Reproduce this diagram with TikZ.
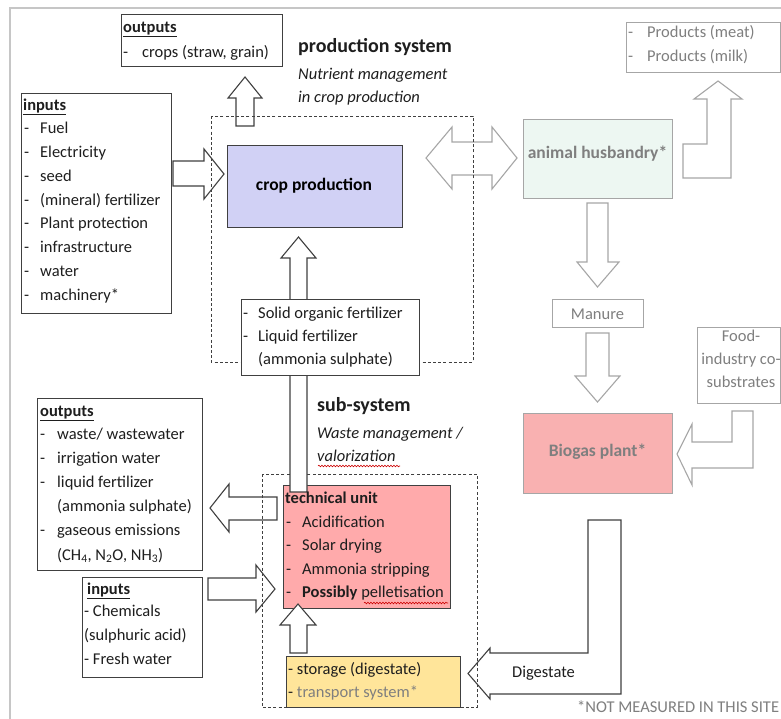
\documentclass[tikz,border=0pt]{standalone}
\usepackage{fontspec}
\setmainfont{Carlito}
\usetikzlibrary{calc,decorations.pathmorphing}

\definecolor{ink}{HTML}{1E1E1E}
\definecolor{edge}{HTML}{404040}
\definecolor{faint}{HTML}{A6A6A6}
\definecolor{greytext}{HTML}{7F7F7F}
\definecolor{framegray}{HTML}{C6C6C6}
\definecolor{cropfill}{HTML}{D1D1F5}
\definecolor{animalfill}{HTML}{EDF7F2}
\definecolor{biogasfill}{HTML}{F9B1B1}
\definecolor{techfill}{HTML}{FFAAAB}
\definecolor{storefill}{HTML}{FFE59A}

\newcommand\bodysize{\fontsize{16.5}{20}\selectfont}
\newcommand\dashitem[2][16pt]{\makebox[#1][l]{-}#2}

\begin{document}
\begin{tikzpicture}[x=1pt,y=-1pt,
  txt/.style={font=\bodysize, inner sep=0pt, anchor=base west, text=ink},
  txtb/.style={txt, font=\bodysize\bfseries},
  txti/.style={txt, font=\bodysize\itshape},
  title/.style={txt, font=\fontsize{20}{24}\selectfont\bfseries},
  boxlabel/.style={inner sep=0pt, anchor=base, font=\fontsize{17.5}{21}\selectfont\bfseries},
  box/.style={draw=edge, line width=1.1pt, fill=white, inner sep=0pt, anchor=north west},
  palebox/.style={box, draw=faint},
  blk/.style={draw=edge, line width=1.1pt, fill=white, line join=miter},
  paleblk/.style={blk, draw=faint},
  zone/.style={draw=edge, line width=0.9pt, dash pattern=on 3pt off 2.2pt},
  wavy/.style={red!80!black, line width=0.6pt, decorate,
    decoration={snake, amplitude=0.8pt, segment length=3pt}}
]
\useasboundingbox (0,0) rectangle (781,718);
\clip (0,0) rectangle (781,718);
\fill[white] (0,0) rectangle (781,718);

% page frame
\draw[framegray, line width=2pt] (10,740) -- (10,8) -- (800,8);

% ---- block arrows lying under the dashed system borders ----
% crop production -> crops
\draw[blk] (236,126) -- (236,98) -- (228,98) -- (245,77) -- (262,98) -- (254,98) -- (254,126) -- cycle;
% inputs -> crop production
\draw[blk] (173,161) -- (204,161) -- (204,149) -- (224,174) -- (204,199) -- (204,186) -- (173,186) -- cycle;
% crop production <-> animal husbandry
\draw[paleblk] (426,158) -- (452,127) -- (452,142) -- (492,142) -- (492,127) -- (517,158)
  -- (492,189) -- (492,175) -- (452,175) -- (452,189) -- cycle;
% technical unit -> outputs
\draw[blk] (277,497) -- (229,497) -- (229,484) -- (210,508) -- (229,532) -- (229,520) -- (277,520) -- cycle;
% inputs -> technical unit
\draw[blk] (208,578) -- (256,578) -- (256,565) -- (275,589) -- (256,612) -- (256,600) -- (208,600) -- cycle;
% biogas plant -> storage (digestate)
\draw[blk] (588,520) -- (621,520) -- (621,694) -- (490,694) -- (490,699) -- (468,673.5)
  -- (490,648) -- (490,653) -- (588,653) -- cycle;
% animal husbandry -> products
\draw[paleblk] (683,178) -- (683,144) -- (707,144) -- (707,99) -- (694,99) -- (718,81)
  -- (742,99) -- (731,99) -- (731,178) -- cycle;
% animal husbandry -> manure
\draw[paleblk] (587,203) -- (608,203) -- (608,262) -- (619,262) -- (597.5,287) -- (577,262) -- (587,262) -- cycle;
% manure -> biogas plant
\draw[paleblk] (586,333) -- (609,333) -- (609,376) -- (620,376) -- (597.5,402) -- (575,376) -- (586,376) -- cycle;
% food-industry co-substrates -> biogas plant
\draw[paleblk] (732,411) -- (753,411) -- (753,468) -- (692,468) -- (692,485) -- (677,454)
  -- (692,424) -- (692,442) -- (732,442) -- cycle;

% ---- system borders ----
\draw[zone] (211,116) rectangle (473,362);
\draw[zone] (262,474) rectangle (477,707);

% ---- boxes ----
\node[box, minimum width=161pt, minimum height=52pt] (outtop) at (121,14) {};
\node[box, minimum width=150pt, minimum height=220pt] (inputs) at (21,93) {};
\node[box, fill=cropfill, minimum width=175pt, minimum height=82pt] (crop) at (227,145) {};
\node[palebox, fill=animalfill, minimum width=149pt, minimum height=79pt] (animal) at (523,119) {};
\node[palebox, minimum width=154pt, minimum height=50pt] (products) at (626,22) {};
\node[palebox, minimum width=91pt, minimum height=28pt] (manure) at (552,299) {};
\node[palebox, minimum width=83pt, minimum height=76pt] (food) at (697,327) {};
\node[palebox, fill=biogasfill, minimum width=149pt, minimum height=80pt] (biogas) at (523,413) {};
\node[box, minimum width=165pt, minimum height=172pt] (outsub) at (37,398) {};
\node[box, minimum width=120pt, minimum height=100pt] (insub) at (82,577) {};
\node[box, fill=techfill, minimum width=167pt, minimum height=123pt] (tech) at (283,485) {};
\node[box, fill=storefill, minimum width=174pt, minimum height=51pt] (storage) at (286,656) {};

% fertilizer flow: technical unit -> crop production
\draw[blk] (290,492) -- (290,258) -- (281,258) -- (298.5,237) -- (316,258) -- (307,258) -- (307,492) -- cycle;
% storage -> technical unit
\draw[blk] (290,653) -- (290,625) -- (280,625) -- (298,604) -- (316,625) -- (307,625) -- (307,653) -- cycle;

\node[box, minimum width=178pt, minimum height=76pt] (solid) at (241,299) {};

% ---- texts ----
% outputs of crop production
\node[txtb] (outtop-h) at (123,32) {\underline{outputs}};
\node[txt] (outtop-1) at (123,57) {\dashitem[19pt]{crops (straw, grain)}};

% production system heading
\node[title] (prod-title) at (298,52) {production system};
\node[txti] (prod-sub1) at (298,79) {Nutrient management};
\node[txti] (prod-sub2) at (298,102) {in crop production};

% inputs of crop production
\node[txtb] (inputs-h) at (23,110) {\underline{inputs}};
\foreach \t [count=\i from 0] in {Fuel, Electricity, seed, {(mineral) fertilizer},
    Plant protection, infrastructure, water, machinery*}
  \node[txt] (inputs-\i) at (24,133.6+23.8*\i) {\dashitem{\t}};

\node[boxlabel] (crop-t) at (314,190) {crop production};
\node[boxlabel, text=greytext] (animal-t) at (597.5,158) {animal husbandry*};
\node[txt, text=greytext] (products-1) at (628,37.5) {\dashitem[19pt]{Products (meat)}};
\node[txt, text=greytext] (products-2) at (628,61) {\dashitem[19pt]{Products (milk)}};
\node[txt, anchor=base, text=greytext] (manure-t) at (597.5,319) {Manure};
\node[txt, anchor=base, text=greytext] (food-1) at (741,341) {Food-};
\node[txt, anchor=base, text=greytext] (food-2) at (741,364) {industry co-};
\node[txt, anchor=base, text=greytext] (food-3) at (741,387) {substrates};
\node[boxlabel, text=greytext] (biogas-t) at (597.5,456) {Biogas plant*};

% recycled fertilizers
\node[txt] (solid-1) at (243,318) {\dashitem[15pt]{Solid organic fertilizer}};
\node[txt] (solid-2) at (243,341) {\dashitem[15pt]{Liquid fertilizer}};
\node[txt] (solid-3) at (258,364) {(ammonia sulphate)};

% sub-system heading
\node[title] (sub-title) at (317,411) {sub-system};
\node[txti] (sub-sub1) at (317,438) {Waste management /};
\node[txti] (sub-sub2) at (317,461) {valorization};
\draw[wavy] (318,466) -- (400,466);

% outputs of the sub-system
\node[txtb] (outsub-h) at (40,416) {\underline{outputs}};
\node[txt] (outsub-1) at (40,439) {\dashitem[17pt]{waste/ wastewater}};
\node[txt] (outsub-2) at (40,463.2) {\dashitem[17pt]{irrigation water}};
\node[txt] (outsub-3) at (40,487.4) {\dashitem[17pt]{liquid fertilizer}};
\node[txt] (outsub-4) at (57,511.6) {(ammonia sulphate)};
\node[txt] (outsub-5) at (40,535.8) {\dashitem[17pt]{gaseous emissions}};
\node[txt] (outsub-6) at (57,560) {(CH\textsubscript{4}, N\textsubscript{2}O, NH\textsubscript{3})};

% inputs of the sub-system
\node[txtb] (insub-h) at (87,594) {\underline{inputs}};
\node[txt] (insub-1) at (84,616) {- Chemicals};
\node[txt] (insub-2) at (84,640) {(sulphuric acid)};
\node[txt] (insub-3) at (84,664) {- Fresh water};

% technical unit
\node[txtb] (tech-h) at (285,503) {technical unit};
\node[txt] (tech-1) at (286,527) {\dashitem{Acidification}};
\node[txt] (tech-2) at (286,550.5) {\dashitem{Solar drying}};
\node[txt] (tech-3) at (286,574) {\dashitem{Ammonia stripping}};
\node[txt] (tech-4) at (286,597.5) {\dashitem{\textbf{Possibly} pelletisation}};
\draw[wavy] (364,603) -- (448,603);

% storage
\node[txt] (storage-1) at (288,674) {- storage (digestate)};
\node[txt] (storage-2) at (288,697) {- \textcolor{greytext}{transport system*}};

\node[txt, anchor=base] (digestate-t) at (543.5,677) {Digestate};
\node[txt, text=greytext] (note) at (577,712) {*NOT MEASURED IN THIS SITE};
\end{tikzpicture}
\end{document}
